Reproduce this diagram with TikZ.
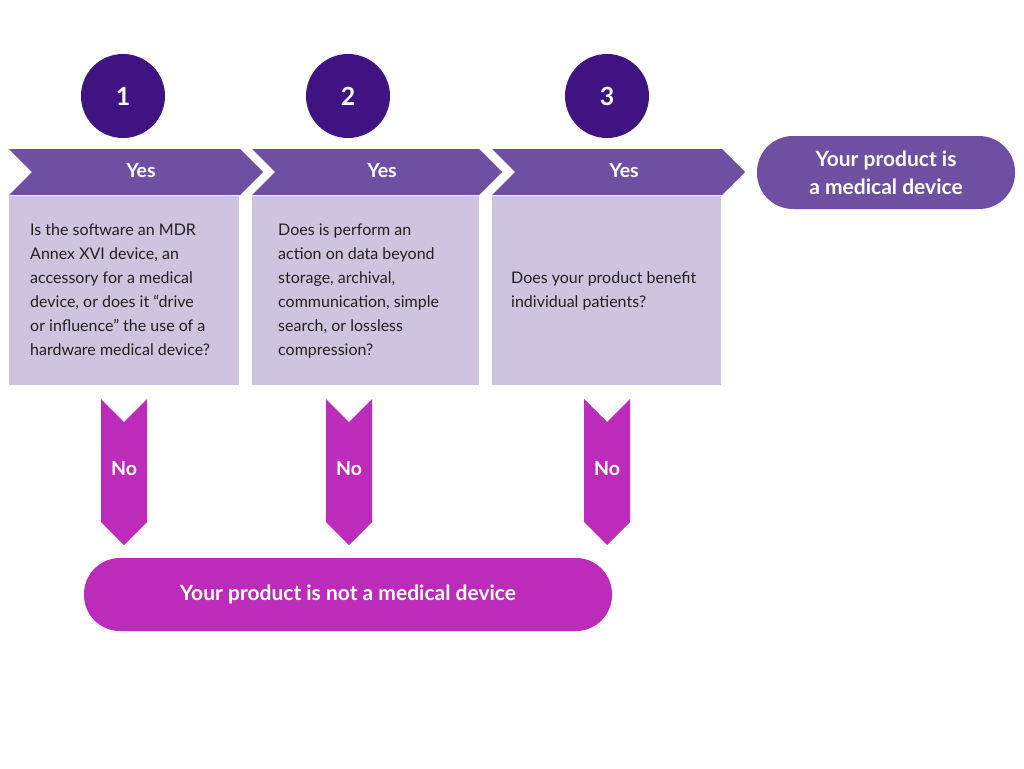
\documentclass[tikz,border=0pt]{standalone}
\usepackage{fontspec}
\setmainfont{Lato}
\definecolor{chevc}{HTML}{6F4FA2}
\definecolor{boxc}{HTML}{CEC4E0}
\definecolor{circc}{HTML}{3F1482}
\definecolor{magc}{HTML}{BD2BBA}
\definecolor{txtc}{HTML}{231F20}
\begin{document}
\begin{tikzpicture}[x=1pt,y=-1pt,
  numc/.style={circle,fill=circc,minimum size=84pt,inner sep=0pt,text=white,font=\fontsize{25}{28}\selectfont\bfseries},
  yeslab/.style={text=white,font=\fontsize{19.5}{22}\selectfont\bfseries,inner sep=0pt},
  nolab/.style={text=white,font=\fontsize{19.5}{22}\selectfont\bfseries,inner sep=0pt},
  qtext/.style={anchor=north west,align=left,inner sep=0pt,text=txtc,font=\fontsize{16}{24}\selectfont},
  pill/.style={rounded corners=36pt,inner sep=0pt,minimum height=73pt,text=white,align=center,font=\fontsize{21}{28}\selectfont\bfseries}
]
\useasboundingbox (0,0) rectangle (1024,768);
\fill[white] (0,0) rectangle (1024,768);
% circles
\node[numc] (c1) at (123,96) {1};
\node[numc] (c2) at (348,96) {2};
\node[numc] (c3) at (607,96) {3};
% chevrons
\foreach \a/\b in {9/240,252/479,492/722}{
  \fill[chevc] (\a,149) -- (\b,149) -- (\b+23,172) -- (\b,195) -- (\a,195) -- (\a+23,172) -- cycle;
}
\node[yeslab] (y1) at (141,171) {Yes};
\node[yeslab] (y2) at (382,171) {Yes};
\node[yeslab] (y3) at (624,171) {Yes};
% question boxes
\fill[boxc] (9,196) rectangle (239,385);
\fill[boxc] (252,196) rectangle (479,385);
\fill[boxc] (492,196) rectangle (721,385);
\node[qtext] (q1) at (30,223.5) {Is the software an MDR\\Annex XVI device, an\\accessory for a medical\\device, or does it “drive\\or influence” the use of a\\hardware medical device?};
\node[qtext] (q2) at (278,223.5) {Does is perform an\\action on data beyond\\storage, archival,\\communication, simple\\search, or lossless\\compression?};
\node[qtext] (q3) at (511,271.5) {Does your product benefit\\individual patients?};
% No arrows
\foreach \c in {124,349,607}{
  \fill[magc] (\c-23,399) -- (\c,422) -- (\c+23,399) -- (\c+23,522) -- (\c,545) -- (\c-23,522) -- cycle;
}
\node[nolab] (n1) at (124,469) {No};
\node[nolab] (n2) at (349,469) {No};
\node[nolab] (n3) at (607,469) {No};
% outcome pills
\node[pill,fill=chevc,minimum width=258pt] (yesout) at (886,172.5) {Your product is\\a medical device};
\node[pill,fill=magc,minimum width=528pt] (noout) at (348,594.5) {Your product is not a medical device};
\end{tikzpicture}
\end{document}
